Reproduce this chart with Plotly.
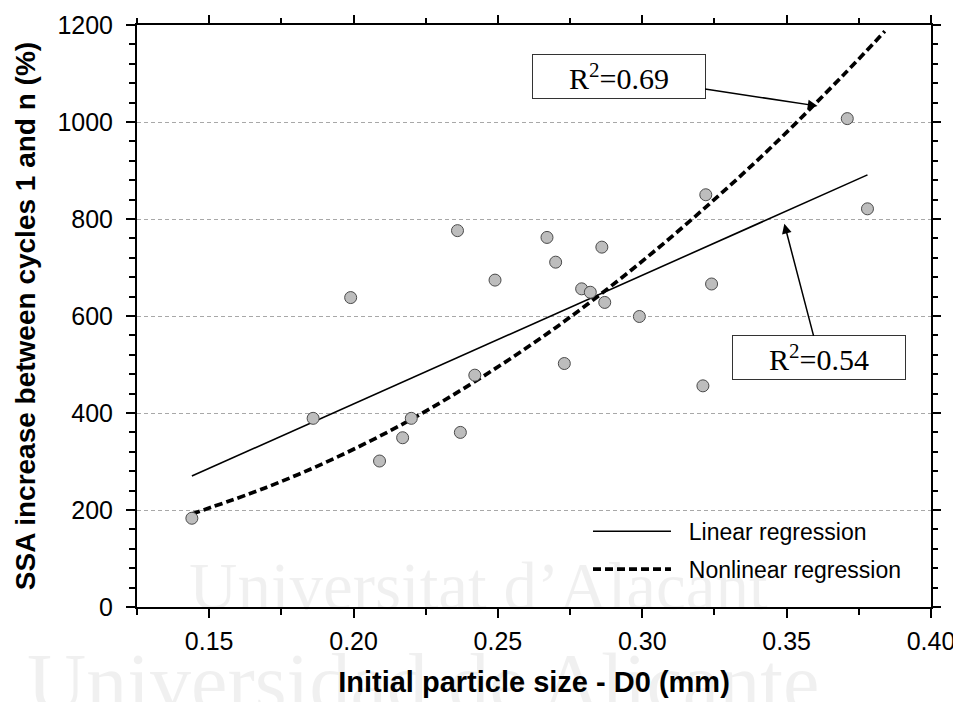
import plotly.graph_objects as go

# Measured points: initial particle size D0 (mm) vs SSA increase (%)
d0_mm = [0.144, 0.186, 0.209, 0.217, 0.220, 0.237, 0.242, 0.199, 0.236, 0.249,
         0.267, 0.270, 0.286, 0.279, 0.282, 0.287, 0.299, 0.322, 0.324, 0.371,
         0.378, 0.273, 0.321]
ssa_increase = [183, 389, 301, 349, 389, 360, 478, 638, 776, 674,
                762, 711, 742, 656, 649, 628, 599, 850, 666, 1007,
                821, 502, 456]

# Linear regression line (end points)
lin_x = [0.144, 0.378]
lin_y = [270, 891]

# Nonlinear regression curve
nl_x = [0.144, 0.170, 0.195, 0.220, 0.245, 0.270, 0.295, 0.320, 0.345, 0.370, 0.384]
nl_y = [192, 247, 311, 387, 476, 576, 689, 814, 950, 1099, 1187]

# R² labels and the curve points they point to
r2_text = ["R<sup>2</sup>=0.69", "R<sup>2</sup>=0.54"]
r2_x = [0.3607, 0.3492]
r2_y = [1033, 790]

x_ticks = [0.15, 0.20, 0.25, 0.30, 0.35, 0.40]
y_ticks = [0, 200, 400, 600, 800, 1000, 1200]
x_range = [0.125, 0.40]
y_range = [0, 1200]

NB = "\u00a0\u00a0"

fig = go.Figure()

fig.add_trace(go.Scatter(
    x=lin_x, y=lin_y, mode="lines", name=NB + "Linear regression",
    line=dict(color="black", width=1.6), legendgroup="a"))
fig.add_trace(go.Scatter(
    x=nl_x, y=nl_y, mode="lines", name=NB + "Nonlinear regression",
    line=dict(color="black", width=3.7, dash="8px,4px", shape="spline"),
    legendgroup="b"))
fig.add_trace(go.Scatter(
    x=d0_mm, y=ssa_increase, mode="markers", showlegend=False,
    marker=dict(size=12, color="#bdbdbd", line=dict(color="#4a4a4a", width=1))))
# invisible copy on the mirrored (top/right) axes so their ticks are drawn
fig.add_trace(go.Scatter(
    x=d0_mm, y=ssa_increase, mode="markers", showlegend=False, hoverinfo="skip",
    xaxis="x2", yaxis="y2", marker=dict(size=1, opacity=0)))

# faint watermark of the source document
fig.add_annotation(text="Universitat d’Alacant", xref="paper", yref="paper",
                   x=0.43, y=0.036, yanchor="middle", showarrow=False,
                   font=dict(family="Liberation Serif", size=67, color="rgba(0,0,0,0.06)"))
fig.add_annotation(text="Universidad de Alicante", xref="paper", yref="paper",
                   x=0.36, y=-0.13, yanchor="middle", showarrow=False,
                   font=dict(family="Liberation Serif", size=82, color="rgba(0,0,0,0.06)"))

offsets = [(-199, -30), (35, 134)]
for t, xx, yy, (ax, ay) in zip(r2_text, r2_x, r2_y, offsets):
    fig.add_annotation(
        x=xx, y=yy, text=t, showarrow=True, ax=ax, ay=ay,
        arrowhead=2, arrowsize=1.3, arrowwidth=1.5, arrowcolor="black",
        bordercolor="#333", borderwidth=1, borderpad=0, bgcolor="white",
        width=172, height=43,
        font=dict(family="Liberation Serif, Times New Roman", size=30, color="black"))

tick_common = dict(
    ticks="outside", ticklen=9, tickwidth=2, tickcolor="black",
    tickfont=dict(family="Arial, Liberation Sans", size=25, color="black"),
    zeroline=False,
)
axis_common = dict(showline=True, linecolor="black", linewidth=2, mirror=True, **tick_common)
x_minor = dict(ticks="outside", ticklen=6, tickwidth=1.5, tickcolor="black", dtick=0.025, tick0=0.125)
y_minor = dict(ticks="outside", ticklen=6, tickwidth=1.5, tickcolor="black", dtick=40, showgrid=False)

fig.update_layout(
    xaxis=dict(
        range=x_range, tickvals=x_ticks, ticktext=[f"{v:.2f}" for v in x_ticks],
        showgrid=False, minor=x_minor,
        title=dict(text="Initial particle size - D0 (mm)", standoff=18,
                   font=dict(family="Arial, Liberation Sans", size=29, weight="bold", color="black")),
        ticklabelstandoff=2, **axis_common),
    yaxis=dict(
        range=y_range, tickvals=y_ticks,
        showgrid=True, gridcolor="#a8a8a8", gridwidth=1, griddash="4px,3px", minor=y_minor,
        title=dict(text="SSA increase between cycles 1 and n (%)", standoff=14,
                   font=dict(family="Arial, Liberation Sans", size=28, weight="bold", color="black")),
        ticklabelstandoff=8, **axis_common),
    xaxis2=dict(range=x_range, tickvals=x_ticks, overlaying="x", side="top", anchor="y",
                showticklabels=False, showgrid=False, showline=False, minor=x_minor, **tick_common),
    yaxis2=dict(range=y_range, tickvals=y_ticks, overlaying="y", side="right", anchor="x",
                showticklabels=False, showgrid=False, showline=False, minor=y_minor, **tick_common),
    width=953, height=694,
    margin=dict(l=129, r=30, t=17, b=95, autoexpand=False),
    plot_bgcolor="white", paper_bgcolor="white",
    legend=dict(x=0.568, y=0.167, xanchor="left", yanchor="top",
                font=dict(family="Arial, Liberation Sans", size=23, color="black"),
                itemwidth=78, tracegroupgap=5, bgcolor="rgba(0,0,0,0)"),
)

fig.write_html("out.html")
